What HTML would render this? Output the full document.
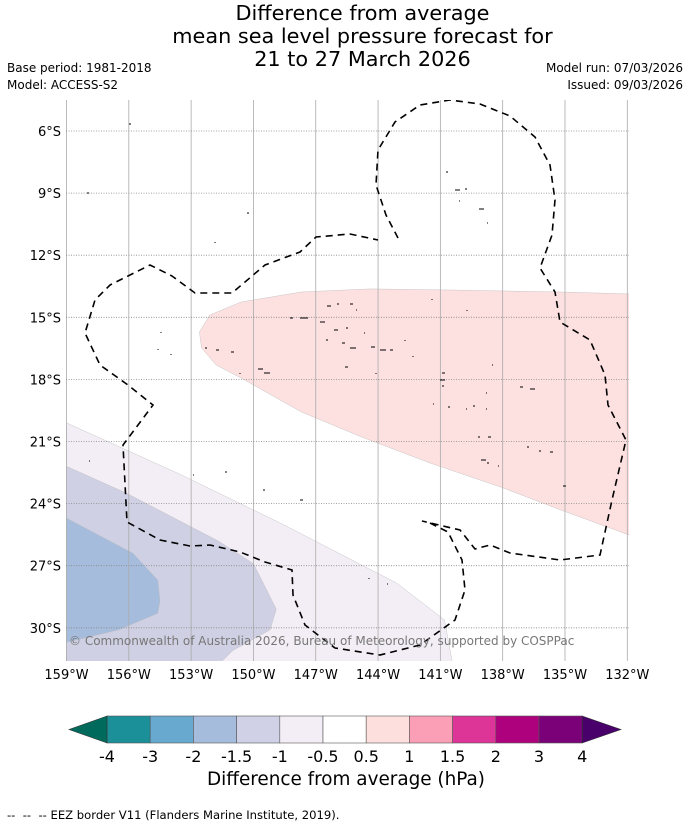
<!DOCTYPE html>
<html><head><meta charset="utf-8"><style>
html,body{margin:0;padding:0;background:#fff;}
body{width:690px;height:827px;position:relative;overflow:hidden;font-family:"DejaVu Sans","Liberation Sans",sans-serif;}
.t{position:absolute;white-space:nowrap;color:#000;}
</style></head><body>
<div class="t" style="left:0;width:725px;top:2px;text-align:center;font-size:20.8px;line-height:23px;">Difference from average<br>mean sea level pressure forecast for<br>21 to 27 March 2026</div>
<div class="t" style="left:7px;top:61px;font-size:12px;">Base period: 1981-2018</div>
<div class="t" style="left:7px;top:78px;font-size:12px;">Model: ACCESS-S2</div>
<div class="t" style="right:7px;top:61px;font-size:12px;">Model run: 07/03/2026</div>
<div class="t" style="right:7px;top:78px;font-size:12px;">Issued: 09/03/2026</div>
<svg id="chart" width="690" height="827" style="position:absolute;left:0;top:0" xmlns="http://www.w3.org/2000/svg">
<defs><clipPath id="mc"><rect x="66" y="100" width="563" height="561"/></clipPath></defs>
<g id="fills" clip-path="url(#mc)"></g>
<g id="grid" clip-path="url(#mc)"></g>
<g id="land" clip-path="url(#mc)" fill="#fff" stroke="#000" stroke-width="1">
<path d="M129 124h2M87 193h2M248 212v2M215 242v1M446 172h2M455 190h5M465 189h2M459 201h1M479 209h5M487 223h1M327 306h4M337 304h2M350 304h3M356 310h1M432 299v1M467 310v1M161 332v1M158 349v1M171 354v1M205 348h2M216 350h3M231 352h3M258 369h5M264 373h6M240 373v1M290 318h3M300 318h8M320 322h5M334 330h4M346 328h2M326 340h2M342 343h3M350 348h6M364 333h1M371 347h4M380 350h6M390 350h3M405 340v1M413 356v1M345 367h3M376 373v1M442 373h3M440 380h5M442 386h2M433 404h1M448 407h2M466 409h1M473 406h2M486 393h1M486 409h1M492 365h1M520 387h3M530 389h5M478 437h2M488 437h3M481 460h5M487 463h2M498 466h1M527 447h2M539 451h2M550 452h3M563 486h3M89 461h1M225 472h2M263 490h2M300 500h3M193 475h1M369 578v1M387 584h1"/>
</g>
<path id="eez" clip-path="url(#mc)" fill="none" stroke="#000" stroke-width="1.6" stroke-dasharray="7,5" d="M398 238 L386 215 L376 185 L378 150 L395 122 L420 105 L450 100 L480 104 L510 116 L535 137 L550 165 L555 200 L552 235 L540 268 L555 292 L560 322 L590 340 L605 375 L608 405 L626 440 L612 500 L600 555 L560 560 L510 553 L490 545 L475 549 L460 530 L422 521 M430 523 L448 532 L462 560 L465 590 L455 620 L420 645 L380 655 L335 648 L305 625 L293 595 L292 570 L265 562 L240 552 L210 545 L190 546 L160 540 L127 522 L123 445 L153 405 L128 385 L100 365 L85 333 L95 300 L110 285 L150 265 L172 276 L195 293 L232 293 L265 265 L300 252 L316 237 L350 234 L378 240"/>
<g id="axes"></g>
<g id="cbar"></g>
</svg>
<div class="t" style="left:69px;top:634px;font-size:12px;color:#777;">© Commonwealth of Australia 2026, Bureau of Meteorology, supported by COSPPac</div>
<div class="t" style="left:0;width:692px;text-align:center;top:769px;font-size:18.4px;">Difference from average (hPa)</div>
<div class="t" style="left:7px;top:808px;font-size:11.6px;">-- &nbsp;-- &nbsp;-- EEZ border V11 (Flanders Marine Institute, 2019).</div>
<script>
const lonTicks=[-159,-156,-153,-150,-147,-144,-141,-138,-135,-132];
const latTicks=[-6,-9,-12,-15,-18,-21,-24,-27,-30];
const contourNames=['contour-minus-1-to-minus-0.5','contour-minus-1.5-to-minus-1','contour-minus-2-to-minus-1.5','contour-0.5-to-1'];
const contourColors=['#f3eef5','#d0d0e4','#a6bcdc','#fde0e0'];
const contourLon=[
[-159,-153.5,-148.7,-143.1,-140.8,-140.4,-159],
[-159,-156.1,-151.7,-150,-148.9,-149.2,-151,-151.7,-159],
[-159,-155.8,-154.6,-154.5,-154.6,-156.5,-159],
[-131.9,-135.2,-140.5,-144.4,-147.7,-150.6,-152.1,-152.6,-152.5,-151.8,-150.6,-149.4,-147.7,-144.8,-141.5,-138.1,-135.2,-131.9]];
const contourLat=[
[-20.1,-22.6,-24.94,-27.84,-29.62,-31.8,-31.8],
[-22.2,-23.5,-25.8,-26.9,-29.1,-30.1,-31.1,-31.8,-31.8],
[-24.7,-26.4,-27.7,-28.7,-29.3,-30.1,-30.7],
[-13.87,-13.78,-13.68,-13.63,-13.78,-14.26,-14.89,-15.71,-16.48,-17.3,-17.93,-18.61,-19.57,-20.78,-22.04,-23.2,-24.31,-25.52]];
const cbLevels=[-4,-3,-2,-1.5,-1,-0.5,0.5,1,1.5,2,3,4];
const cbLabels=['-4','-3','-2','-1.5','-1','-0.5','0.5','1','1.5','2','3','4'];
const cbColors=['#1b9099','#67a9cf','#a6bcdc','#d0d1e6','#f3eef5','#ffffff','#fde0dd','#fa9fb5','#dd3497','#ae017e','#7a0177'];
const cbLow='#006b5c', cbHigh='#49006a';

const NS='http://www.w3.org/2000/svg';
const X=lon=>66.5+(lon+159)*20.77;
const Y=lat=>131+(-6-lat)*20.7;
function mk(tag,attrs,parent){const e=document.createElementNS(NS,tag);for(const k in attrs)e.setAttribute(k,attrs[k]);parent.appendChild(e);return e;}
const fills=document.getElementById('fills'),grid=document.getElementById('grid'),axes=document.getElementById('axes'),cbar=document.getElementById('cbar');
contourLon.forEach((lons,i)=>{
  const pts=lons.map((l,j)=>X(l).toFixed(1)+','+Y(contourLat[i][j]).toFixed(1)).join(' ');
  const p=mk('polygon',{points:pts,fill:contourColors[i],stroke:'#bbb','stroke-width':0.4},fills);
  
  
});
lonTicks.forEach(l=>{
  const x=X(l);
  const ln=mk('line',{x1:x,x2:x,y1:100,y2:661,stroke:'#aaa','stroke-width':0.8},grid);
  
  
  const t=mk('text',{x:x,y:679,'text-anchor':'middle','font-size':13,'font-family':'DejaVu Sans, Liberation Sans, sans-serif'},axes);
  t.textContent=Math.abs(l)+'°W';
  
  
});
latTicks.forEach(l=>{
  const y=Y(l);
  const ln=mk('line',{x1:66,x2:629,y1:y,y2:y,stroke:'#888','stroke-width':0.8,'stroke-dasharray':'1,1.5'},grid);
  
  
  const t=mk('text',{x:61,y:y+5,'text-anchor':'end','font-size':13,'font-family':'DejaVu Sans, Liberation Sans, sans-serif'},axes);
  t.textContent=Math.abs(l)+'°S';
  
  
});
const cbX0=107,cbStep=43.2,cbY0=716,cbY1=743;
const CX=i=>cbX0+i*cbStep;
cbColors.forEach((c,i)=>{
  const r=mk('rect',{x:CX(i),y:cbY0,width:cbStep,height:cbY1-cbY0,fill:c,stroke:'#555','stroke-width':0.6},cbar);
  
  
});
const tl=mk('polygon',{points:`${CX(0)},${cbY0} ${CX(0)},${cbY1} 69,${(cbY0+cbY1)/2}`,fill:cbLow,stroke:'#333','stroke-width':0.6},cbar);


const n=cbColors.length;
const tr=mk('polygon',{points:`${CX(n)},${cbY0} ${CX(n)},${cbY1} 621,${(cbY0+cbY1)/2}`,fill:cbHigh,stroke:'#333','stroke-width':0.6},cbar);


cbLevels.forEach((v,i)=>{
  const t=mk('text',{x:CX(i),y:762,'text-anchor':'middle','font-size':16,'font-family':'DejaVu Sans, Liberation Sans, sans-serif'},cbar);
  t.textContent=cbLabels[i];
  
  
});
</script>
</body></html>
